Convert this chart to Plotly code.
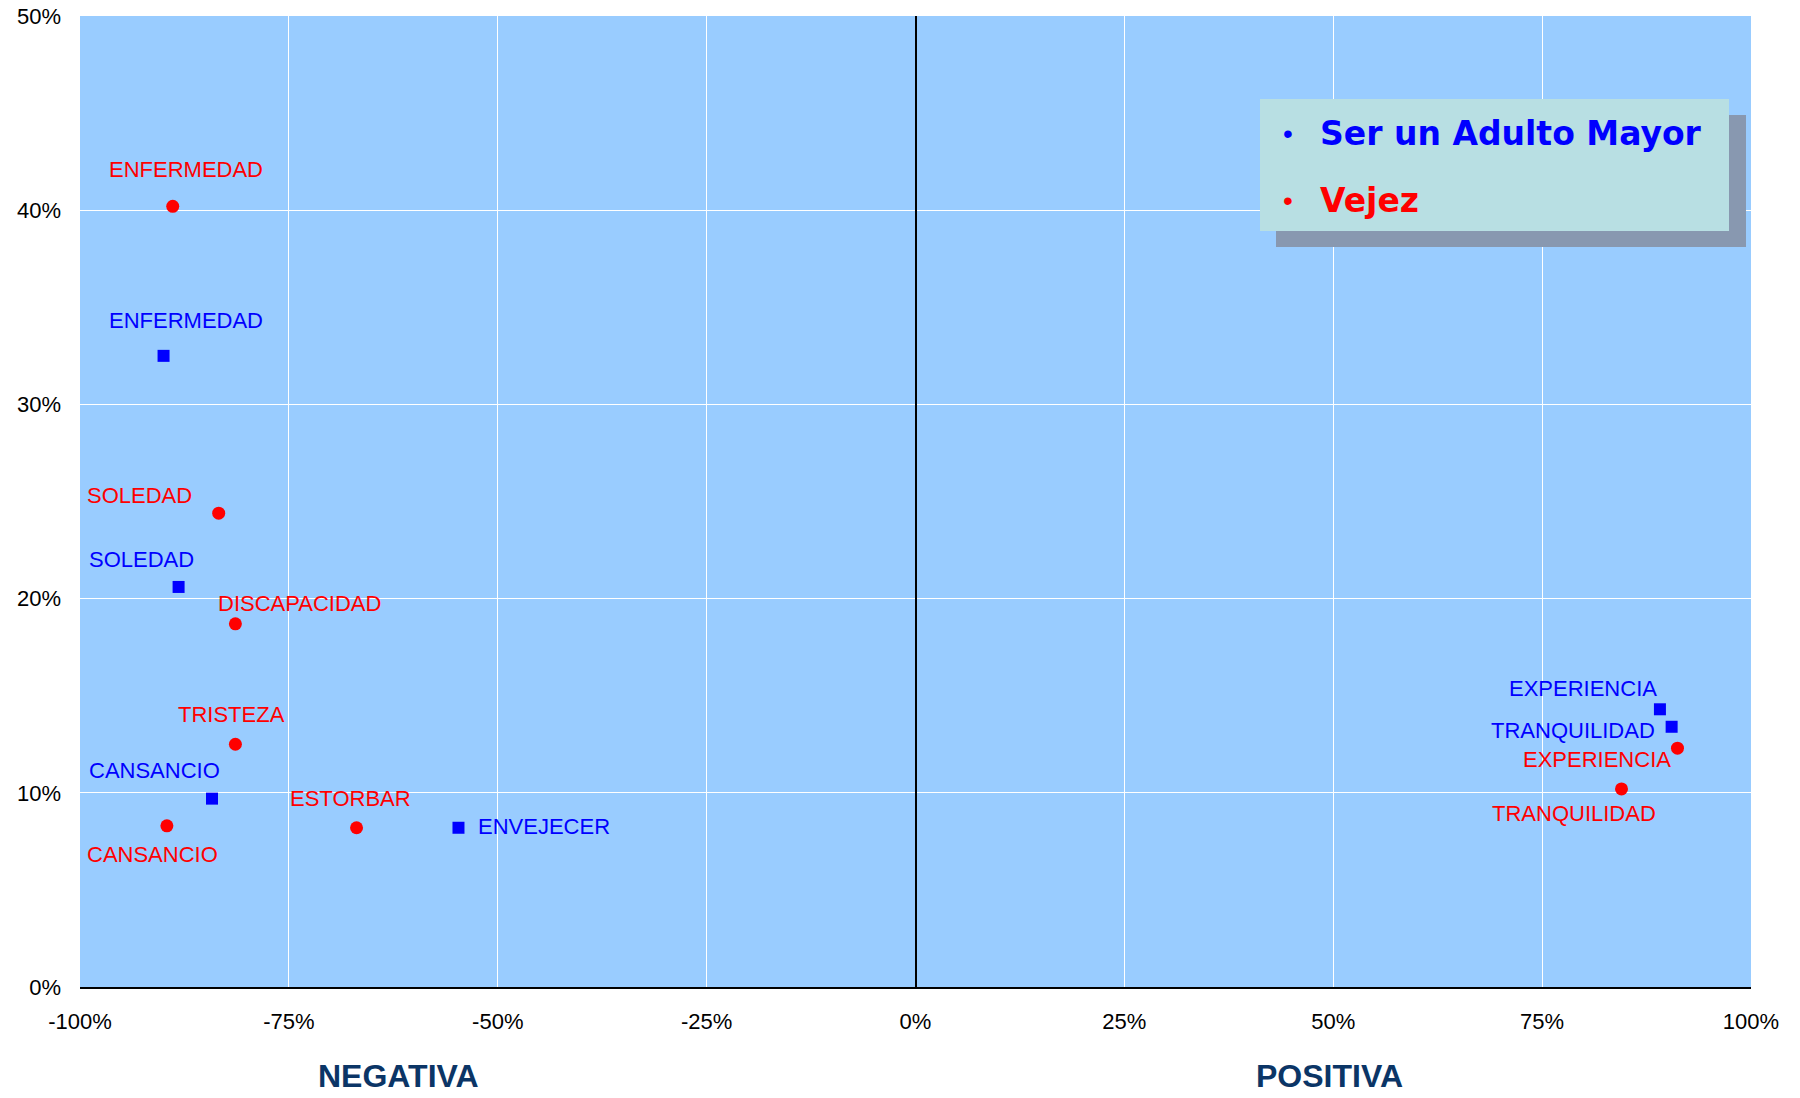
import plotly.graph_objects as go

# ---- data (percent) ----
adulto_labels = ["ENFERMEDAD", "SOLEDAD", "CANSANCIO", "ENVEJECER", "EXPERIENCIA", "TRANQUILIDAD"]
adulto_x = [-90.0, -88.2, -84.2, -54.7, 89.1, 90.5]
adulto_y = [32.5, 20.6, 9.7, 8.2, 14.3, 13.4]

vejez_labels = ["ENFERMEDAD", "SOLEDAD", "DISCAPACIDAD", "TRISTEZA", "CANSANCIO", "ESTORBAR", "EXPERIENCIA", "TRANQUILIDAD"]
vejez_x = [-88.9, -83.4, -81.4, -81.4, -89.6, -66.9, 91.2, 84.5]
vejez_y = [40.2, 24.4, 18.7, 12.5, 8.3, 8.2, 12.3, 10.2]

series_names = ["Ser un Adulto Mayor", "Vejez"]
x_ticks = [-100, -75, -50, -25, 0, 25, 50, 75, 100]
x_ticktext = ["-100%", "-75%", "-50%", "-25%", "0%", "25%", "50%", "75%", "100%"]
y_ticks = [0, 10, 20, 30, 40, 50]
y_ticktext = ["0%", "10%", "20%", "30%", "40%", "50%"]
axis_titles = ["NEGATIVA", "POSITIVA"]

# label offsets in pixels (dx, dy downward) — styling only
adulto_offsets = [(22, -35), (-37, -27), (-58, -28), (86, -1), (-77, -21), (-99, 4)]
vejez_offsets = [(13, -37), (-79, -18), (64, -20), (-4, -30), (-14, 29), (-6, -29), (-80, 11), (-48, 25)]

BLUE = "#0000FF"
RED = "#FF0000"
FONT = "Arial, Liberation Sans, sans-serif"

fig = go.Figure()
fig.add_trace(go.Scatter(x=adulto_x, y=adulto_y, mode="markers", name=series_names[0],
                         marker=dict(symbol="square", size=12, color=BLUE), showlegend=False))
fig.add_trace(go.Scatter(x=vejez_x, y=vejez_y, mode="markers", name=series_names[1],
                         marker=dict(symbol="circle", size=13, color=RED), showlegend=False))

annotations = []
for lbls, xs, ys, offs, col in [(adulto_labels, adulto_x, adulto_y, adulto_offsets, BLUE),
                                (vejez_labels, vejez_x, vejez_y, vejez_offsets, RED)]:
    for t, x, y, (dx, dy) in zip(lbls, xs, ys, offs):
        annotations.append(dict(x=x, y=y, xref="x", yref="y", text=t, showarrow=False,
                                xanchor="center", yanchor="middle", xshift=dx, yshift=-dy,
                                font=dict(family=FONT, size=22, color=col)))

# legend (custom box with shadow)
shapes = [
    dict(type="rect", xref="paper", yref="paper",
         x0=(1276 - 80) / 1671, x1=(1746 - 80) / 1671,
         y0=(987 - 247) / 971, y1=(987 - 115) / 971,
         fillcolor="#8898B0", line=dict(width=0), layer="above"),
    dict(type="rect", xref="paper", yref="paper",
         x0=(1260 - 80) / 1671, x1=(1729 - 80) / 1671,
         y0=(987 - 231) / 971, y1=(987 - 99) / 971,
         fillcolor="#B8DFE3", line=dict(width=0), layer="above"),
]
for name, col, ypx in [(series_names[0], BLUE, 133), (series_names[1], RED, 200)]:
    yp = (987 - ypx) / 971
    annotations.append(dict(x=(1288 - 80) / 1671, y=yp, xref="paper", yref="paper", text="•",
                            showarrow=False, xanchor="center", yanchor="middle",
                            font=dict(family=FONT, size=28, color=col)))
    annotations.append(dict(x=(1318 - 80) / 1671, y=yp, xref="paper", yref="paper",
                            text="<b>" + name + "</b>", showarrow=False, xanchor="left", yanchor="middle",
                            font=dict(family="DejaVu Sans, Verdana, sans-serif", size=33, color=col)))

# NEGATIVA / POSITIVA
for t, xc in zip(axis_titles, [-61.9, 49.5]):
    annotations.append(dict(x=xc, y=0, xref="x", yref="paper", yshift=-89, text="<b>" + t + "</b>",
                            showarrow=False, xanchor="center", yanchor="middle",
                            font=dict(family=FONT, size=32, color="#0B3566")))

fig.update_layout(
    width=1800, height=1098,
    margin=dict(l=80, r=49, t=16, b=111, autoexpand=False),
    paper_bgcolor="white", plot_bgcolor="#99CCFF",
    font=dict(family=FONT, size=22, color="black"),
    xaxis=dict(range=[-100, 100], tickvals=x_ticks, ticktext=x_ticktext, automargin=False,
               showgrid=True, gridcolor="white", gridwidth=1,
               zeroline=True, zerolinecolor="black", zerolinewidth=1.5,
               showline=True, linecolor="black", linewidth=2, mirror=False,
               ticks="", ticklabelstandoff=14, tickfont=dict(size=22)),
    yaxis=dict(range=[0, 50], tickvals=y_ticks, ticktext=y_ticktext, automargin=False,
               showgrid=True, gridcolor="white", gridwidth=1,
               zeroline=False, showline=False, ticks="", ticklabelstandoff=18,
               tickfont=dict(size=22)),
    shapes=shapes,
    annotations=annotations,
)

fig.write_html("out.html", config={"displayModeBar": False},
               post_script="document.body.style.margin='0';document.body.style.overflow='hidden';")
